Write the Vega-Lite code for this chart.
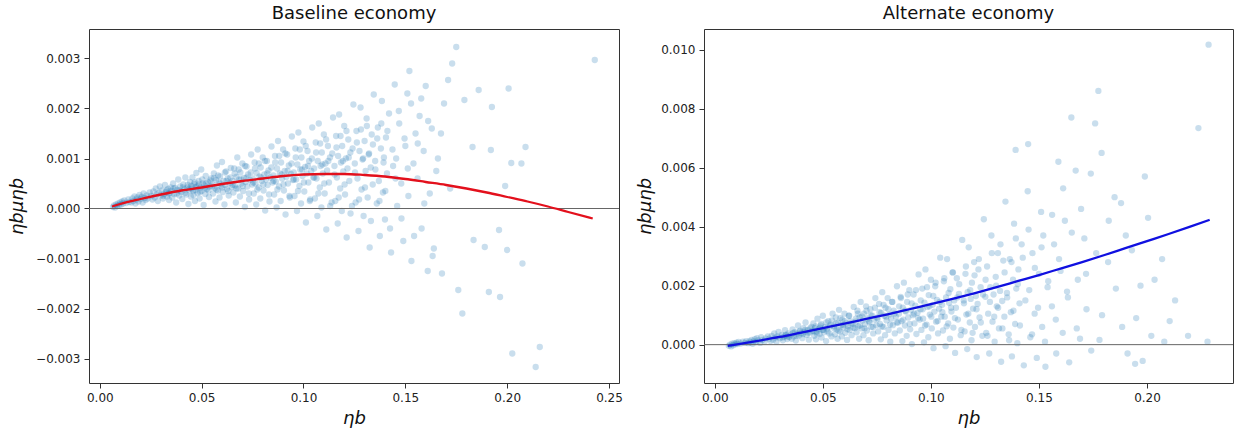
{
"$schema": "https://vega.github.io/schema/vega-lite/v6.json",
"autosize": {"type": "pad"},
"padding": {"left": 8, "top": 4, "right": 0, "bottom": 0},
"background": "white",
"bounds": "flush",
"spacing": 85,
"config": {
 "font": "DejaVu Sans",
 "view": {"stroke": "#333", "strokeWidth": 1},
 "axis": {"domain": false, "grid": false, "ticks": true, "tickSize": 5, "tickColor": "#333", "labelFont": "DejaVu Sans", "labelFontSize": 12, "labelColor": "#222", "labelPadding": 4, "titleFont": "DejaVu Sans", "titleFontStyle": "italic", "titleFontWeight": "normal", "titleFontSize": 18, "titleColor": "#111"},
 "title": {"fontSize": 18, "fontWeight": "normal", "font": "DejaVu Sans", "color": "#111", "offset": 6}
},
"datasets": {
"zero": [{"y": 0}],
"base": [
{"x":0.0065,"y":0.00003},{"x":0.007,"y":0.00006},{"x":0.0075,"y":0.00002},{"x":0.008,"y":0.00008},{"x":0.0085,"y":0.00005},{"x":0.009,"y":0.0001},{"x":0.0095,"y":0.00007},{"x":0.01,"y":0.00012},{"x":0.0105,"y":0.00008},{"x":0.011,"y":0.00014},{"x":0.0115,"y":0.0001},{"x":0.012,"y":0.00016},{"x":0.013,"y":0.00011},{"x":0.014,"y":0.00018},{"x":0.0145,"y":0.00013},
{"x":0.0155,"y":0.00012},{"x":0.016,"y":0.0002},{"x":0.0165,"y":0.00015},{"x":0.017,"y":0.00024},{"x":0.0175,"y":0.0001},{"x":0.018,"y":0.00018},{"x":0.0185,"y":0.00022},{"x":0.019,"y":0.00014},{"x":0.0195,"y":0.00027},{"x":0.02,"y":0.00019},{"x":0.0205,"y":0.00023},{"x":0.021,"y":0.00012},{"x":0.0215,"y":0.0003},{"x":0.022,"y":0.00021},{"x":0.0225,"y":0.00017},{"x":0.023,"y":0.00026},{"x":0.0235,"y":0.0002},{"x":0.0245,"y":0.00032},
{"x":0.0252,"y":0.00025},{"x":0.0258,"y":0.00018},{"x":0.0263,"y":0.00034},{"x":0.027,"y":0.00022},{"x":0.0275,"y":0.0004},{"x":0.028,"y":0.00028},{"x":0.0285,"y":0.00015},{"x":0.029,"y":0.00031},{"x":0.0295,"y":0.00044},{"x":0.03,"y":0.00026},{"x":0.0305,"y":0.00036},{"x":0.031,"y":0.0002},{"x":0.0315,"y":0.00029},{"x":0.032,"y":0.00047},{"x":0.0325,"y":0.00033},{"x":0.033,"y":0.00024},{"x":0.0335,"y":0.00039},{"x":0.034,"y":0.00017},{"x":0.0342,"y":0.0003},{"x":0.0348,"y":0.00042},
{"x":0.0352,"y":0.00035},{"x":0.0356,"y":0.00022},{"x":0.036,"y":0.0005},{"x":0.0365,"y":0.00029},{"x":0.037,"y":0.00041},{"x":0.0375,"y":0.00012},{"x":0.038,"y":0.00037},{"x":0.0385,"y":0.00058},{"x":0.039,"y":0.00026},{"x":0.0395,"y":0.00044},{"x":0.04,"y":0.00033},{"x":0.0405,"y":0.00019},{"x":0.041,"y":0.00048},{"x":0.0415,"y":0.00038},{"x":0.042,"y":0.00062},{"x":0.0425,"y":0.00028},{"x":0.043,"y":0.00042},{"x":0.0435,"y":0.00009},{"x":0.044,"y":0.00036},{"x":0.0443,"y":0.00053},{"x":0.0447,"y":0.00024},{"x":0.0449,"y":0.00045},
{"x":0.0452,"y":0.0004},{"x":0.0455,"y":0.00062},{"x":0.046,"y":0.00027},{"x":0.0463,"y":0.00049},{"x":0.0467,"y":0.00015},{"x":0.047,"y":0.00037},{"x":0.0474,"y":0.00071},{"x":0.0478,"y":0.00044},{"x":0.048,"y":0.00031},{"x":0.0485,"y":0.00055},{"x":0.049,"y":0.0002},{"x":0.0494,"y":0.00042},{"x":0.0498,"y":0.00078},{"x":0.05,"y":0.00035},{"x":0.0505,"y":0.0005},{"x":0.051,"y":0.00007},{"x":0.0513,"y":0.00046},{"x":0.0518,"y":0.00029},{"x":0.052,"y":0.00065},{"x":0.0525,"y":0.00039},{"x":0.053,"y":0.00053},{"x":0.0536,"y":0.00023},{"x":0.054,"y":0.00044},{"x":0.0546,"y":0.0006},
{"x":0.0552,"y":0.00048},{"x":0.0556,"y":0.0003},{"x":0.056,"y":0.0007},{"x":0.0564,"y":0.00041},{"x":0.0568,"y":0.00014},{"x":0.057,"y":0.00057},{"x":0.0575,"y":0.00086},{"x":0.058,"y":0.00036},{"x":0.0584,"y":0.00052},{"x":0.0588,"y":0.00022},{"x":0.059,"y":0.00064},{"x":0.0595,"y":0.00045},{"x":0.06,"y":0.00093},{"x":0.0604,"y":0.00033},{"x":0.0608,"y":0.00055},{"x":0.0612,"y":0.00008},{"x":0.0616,"y":0.00047},{"x":0.062,"y":0.00074},{"x":0.0624,"y":0.00039},{"x":0.0628,"y":0.0006},{"x":0.0633,"y":0.00026},{"x":0.0638,"y":0.00051},{"x":0.0643,"y":0.00081},{"x":0.0648,"y":0.00043},
{"x":0.0652,"y":0.00055},{"x":0.0656,"y":0.00032},{"x":0.066,"y":0.0008},{"x":0.0664,"y":0.00046},{"x":0.0668,"y":0.00012},{"x":0.067,"y":0.00063},{"x":0.0675,"y":0.00102},{"x":0.068,"y":0.0004},{"x":0.0684,"y":0.00058},{"x":0.0688,"y":0.00024},{"x":0.069,"y":0.00072},{"x":0.0695,"y":0.0005},{"x":0.07,"y":0.0009},{"x":0.0704,"y":0.00035},{"x":0.0708,"y":0.00061},{"x":0.0712,"y":0.00003},{"x":0.0716,"y":0.00053},{"x":0.072,"y":0.00084},{"x":0.0724,"y":0.00044},{"x":0.0728,"y":0.00068},{"x":0.0733,"y":0.00018},{"x":0.0738,"y":0.00057},{"x":0.0743,"y":0.00108},{"x":0.0748,"y":0.00048},
{"x":0.0752,"y":0.0006},{"x":0.0756,"y":0.0003},{"x":0.076,"y":0.00092},{"x":0.0764,"y":0.0005},{"x":0.0768,"y":0.00008},{"x":0.077,"y":0.00071},{"x":0.0775,"y":0.00118},{"x":0.078,"y":0.00042},{"x":0.0784,"y":0.00064},{"x":0.0788,"y":0.0002},{"x":0.079,"y":0.00082},{"x":0.0795,"y":0.00055},{"x":0.08,"y":0.00102},{"x":0.0804,"y":0.00036},{"x":0.0808,"y":0.00068},{"x":0.0812,"y":-0.00004},{"x":0.0816,"y":0.00058},{"x":0.082,"y":0.00095},{"x":0.0824,"y":0.00047},{"x":0.0828,"y":0.00076},{"x":0.0833,"y":0.00014},{"x":0.0838,"y":0.00062},{"x":0.0843,"y":0.00124},{"x":0.0848,"y":0.00052},
{"x":0.0852,"y":0.00066},{"x":0.0856,"y":0.00028},{"x":0.086,"y":0.00105},{"x":0.0864,"y":0.00054},{"x":0.0868,"y":0.00002},{"x":0.087,"y":0.0008},{"x":0.0875,"y":0.00135},{"x":0.088,"y":0.00044},{"x":0.0884,"y":0.0007},{"x":0.0888,"y":0.00015},{"x":0.089,"y":0.00092},{"x":0.0895,"y":0.0006},{"x":0.09,"y":0.00118},{"x":0.0904,"y":0.00036},{"x":0.0908,"y":0.00075},{"x":0.0912,"y":-0.00012},{"x":0.0916,"y":0.00063},{"x":0.092,"y":0.00108},{"x":0.0924,"y":0.0005},{"x":0.0928,"y":0.00086},{"x":0.0933,"y":0.00022},{"x":0.0938,"y":0.00069},{"x":0.0943,"y":0.00144},{"x":0.0948,"y":0.00057},
{"x":0.0952,"y":0.00072},{"x":0.0956,"y":0.00025},{"x":0.096,"y":0.0012},{"x":0.0964,"y":0.00058},{"x":0.0968,"y":-0.00005},{"x":0.097,"y":0.00088},{"x":0.0975,"y":0.00152},{"x":0.098,"y":0.00045},{"x":0.0984,"y":0.00078},{"x":0.0988,"y":0.0001},{"x":0.099,"y":0.00102},{"x":0.0995,"y":0.00065},{"x":0.1,"y":0.00134},{"x":0.1004,"y":0.00034},{"x":0.1008,"y":0.00083},{"x":0.1012,"y":-0.00028},{"x":0.1016,"y":0.0007},{"x":0.102,"y":0.00115},{"x":0.1024,"y":0.00052},{"x":0.1028,"y":0.00095},{"x":0.1033,"y":0.00018},{"x":0.1038,"y":0.00075},{"x":0.1043,"y":0.00162},{"x":0.1048,"y":0.00062},
{"x":0.1052,"y":0.0008},{"x":0.1056,"y":0.0002},{"x":0.106,"y":0.00132},{"x":0.1064,"y":0.0006},{"x":0.1068,"y":-0.00015},{"x":0.107,"y":0.00095},{"x":0.1075,"y":0.0017},{"x":0.108,"y":0.00042},{"x":0.1084,"y":0.00085},{"x":0.1088,"y":0.00002},{"x":0.109,"y":0.00112},{"x":0.1095,"y":0.0007},{"x":0.11,"y":0.00148},{"x":0.1104,"y":0.0003},{"x":0.1108,"y":0.0009},{"x":0.1112,"y":-0.00042},{"x":0.1116,"y":0.00076},{"x":0.112,"y":0.00125},{"x":0.1125,"y":0.00052},{"x":0.113,"y":0.00102},{"x":0.1138,"y":0.00012},{"x":0.1145,"y":0.00182},
{"x":0.1152,"y":0.00085},{"x":0.1156,"y":0.00015},{"x":0.116,"y":0.00145},{"x":0.1164,"y":0.00062},{"x":0.1168,"y":-0.0003},{"x":0.117,"y":0.00105},{"x":0.1175,"y":0.00188},{"x":0.118,"y":0.0004},{"x":0.1184,"y":0.00092},{"x":0.1188,"y":-0.00005},{"x":0.119,"y":0.00125},{"x":0.1195,"y":0.00074},{"x":0.12,"y":0.00165},{"x":0.1204,"y":0.00028},{"x":0.1208,"y":0.001},{"x":0.1212,"y":-0.00058},{"x":0.1216,"y":0.0008},{"x":0.122,"y":0.00138},{"x":0.1225,"y":0.00055},{"x":0.123,"y":0.00112},{"x":0.1238,"y":0.00005},{"x":0.1245,"y":0.00208},
{"x":0.1252,"y":0.0009},{"x":0.1256,"y":0.00012},{"x":0.126,"y":0.00155},{"x":0.1265,"y":0.0006},{"x":0.127,"y":-0.00045},{"x":0.1275,"y":0.00115},{"x":0.128,"y":0.00202},{"x":0.1285,"y":0.00038},{"x":0.129,"y":0.00098},{"x":0.1295,"y":-0.00015},{"x":0.13,"y":0.00135},{"x":0.1305,"y":0.00075},{"x":0.131,"y":0.0018},{"x":0.1315,"y":0.00022},{"x":0.132,"y":0.00108},{"x":0.1325,"y":-0.00078},{"x":0.133,"y":0.00082},{"x":0.1335,"y":0.00148},{"x":0.134,"y":0.00048},{"x":0.1345,"y":0.00228},
{"x":0.1352,"y":0.00095},{"x":0.136,"y":0.0001},{"x":0.1365,"y":0.00162},{"x":0.137,"y":0.00055},{"x":0.1375,"y":-0.00055},{"x":0.138,"y":0.0012},{"x":0.1385,"y":0.00215},{"x":0.139,"y":0.00032},{"x":0.1395,"y":0.00102},{"x":0.14,"y":-0.00022},{"x":0.1405,"y":0.00142},{"x":0.141,"y":0.0007},{"x":0.142,"y":0.0019},{"x":0.143,"y":-0.00088},{"x":0.144,"y":0.00085},{"x":0.1448,"y":0.00248},
{"x":0.1455,"y":0.001},{"x":0.146,"y":0.00005},{"x":0.147,"y":0.0017},{"x":0.148,"y":0.0005},{"x":0.149,"y":-0.00065},{"x":0.15,"y":0.00125},{"x":0.151,"y":0.0023},{"x":0.1515,"y":0.00025},{"x":0.152,"y":0.00275},{"x":0.153,"y":-0.00105},{"x":0.154,"y":0.0009},{"x":0.155,"y":0.0015},
{"x":0.156,"y":0.0006},{"x":0.157,"y":0.00185},{"x":0.158,"y":-0.0004},{"x":0.159,"y":0.00115},{"x":0.16,"y":0.00245},{"x":0.161,"y":-0.00125},{"x":0.162,"y":0.0003},{"x":0.163,"y":0.0016},{"x":0.164,"y":-0.0008},
{"x":0.166,"y":0.001},{"x":0.168,"y":-0.0013},{"x":0.169,"y":0.0021},{"x":0.171,"y":0.00257},{"x":0.172,"y":0.0004},{"x":0.173,"y":0.0029},{"x":0.175,"y":0.00323},{"x":0.176,"y":-0.00163},{"x":0.178,"y":-0.0021},{"x":0.179,"y":0.00217},
{"x":0.183,"y":0.00123},{"x":0.1835,"y":-0.00063},{"x":0.186,"y":0.00237},{"x":0.189,"y":-0.00077},{"x":0.191,"y":-0.00167},{"x":0.192,"y":0.00117},{"x":0.1925,"y":0.00203},{"x":0.196,"y":-0.00043},{"x":0.1965,"y":-0.00177},{"x":0.199,"y":0.00045},
{"x":0.2007,"y":0.0024},{"x":0.2,"y":-0.00083},{"x":0.202,"y":0.00091},{"x":0.2025,"y":-0.0029},{"x":0.207,"y":0.0009},{"x":0.2075,"y":-0.0011},{"x":0.209,"y":0.00123},{"x":0.214,"y":-0.00317},{"x":0.216,"y":-0.00277},{"x":0.243,"y":0.00297},
{"x":0.0312,"y":0.00025},{"x":0.0328,"y":0.00036},{"x":0.0337,"y":0.0003},{"x":0.0363,"y":0.0004},{"x":0.0378,"y":0.0003},{"x":0.0392,"y":0.00036},{"x":0.0408,"y":0.00042},{"x":0.0419,"y":0.00031},{"x":0.0432,"y":0.00047},{"x":0.0441,"y":0.0004},{"x":0.0458,"y":0.00035},{"x":0.0466,"y":0.00052},{"x":0.0472,"y":0.00043},{"x":0.0487,"y":0.00048},{"x":0.0492,"y":0.00033},{"x":0.0503,"y":0.00058},{"x":0.0516,"y":0.00041},{"x":0.0522,"y":0.0005},{"x":0.0533,"y":0.00036},{"x":0.0542,"y":0.00056},{"x":0.0553,"y":0.00044},{"x":0.0561,"y":0.00061},{"x":0.0573,"y":0.00038},{"x":0.0581,"y":0.00066},{"x":0.0592,"y":0.0005},{"x":0.0601,"y":0.00042},{"x":0.0614,"y":0.00072},{"x":0.0622,"y":0.00055},{"x":0.0631,"y":0.00035},{"x":0.0641,"y":0.00062},{"x":0.0653,"y":0.00047},{"x":0.0662,"y":0.0007},{"x":0.0671,"y":0.0004},{"x":0.0682,"y":0.00078},{"x":0.0693,"y":0.00058},{"x":0.0702,"y":0.00045},{"x":0.0713,"y":0.00085},{"x":0.0721,"y":0.00062},{"x":0.0732,"y":0.0003},{"x":0.0741,"y":0.00072},{"x":0.0753,"y":0.00052},{"x":0.0762,"y":0.0008},{"x":0.0773,"y":0.00038},{"x":0.0781,"y":0.0009},{"x":0.0792,"y":0.00062},{"x":0.0803,"y":0.00048},{"x":0.0811,"y":0.00095},{"x":0.0822,"y":0.0007},{"x":0.0831,"y":0.00028},{"x":0.0842,"y":0.00082},{"x":0.0853,"y":0.00055},{"x":0.0861,"y":0.00092},{"x":0.0872,"y":0.00038},{"x":0.0881,"y":0.00105},{"x":0.0893,"y":0.00068},{"x":0.0902,"y":0.00048},{"x":0.0911,"y":0.0011},{"x":0.0922,"y":0.00075},{"x":0.0931,"y":0.00025},{"x":0.0941,"y":0.0009},{"x":0.0953,"y":0.00058},{"x":0.0962,"y":0.00102},{"x":0.0973,"y":0.00035},{"x":0.0982,"y":0.00118},{"x":0.0993,"y":0.00078},{"x":0.1002,"y":0.00052},{"x":0.1011,"y":0.00125},{"x":0.1022,"y":0.00085},{"x":0.1031,"y":0.00015},{"x":0.1041,"y":0.001},{"x":0.1053,"y":0.00062},{"x":0.1062,"y":0.00112},{"x":0.1073,"y":0.0003},{"x":0.1082,"y":0.0013},{"x":0.1093,"y":0.00088},{"x":0.1102,"y":0.0005},{"x":0.1111,"y":0.00138},{"x":0.1122,"y":0.00095},{"x":0.1131,"y":0.00005},{"x":0.1141,"y":0.0011},{"x":0.1153,"y":0.00068},{"x":0.1162,"y":0.00122},{"x":0.1173,"y":0.00022},{"x":0.1182,"y":0.00145},{"x":0.1193,"y":0.00095},{"x":0.1202,"y":0.00048},{"x":0.1211,"y":0.00155},{"x":0.1222,"y":0.00102},{"x":0.1231,"y":-0.0001},{"x":0.1241,"y":0.0012},{"x":0.1253,"y":0.00072},{"x":0.1262,"y":0.00132},{"x":0.1273,"y":0.00018},{"x":0.1282,"y":0.00158},{"x":0.1293,"y":0.001},{"x":0.1302,"y":0.00042},{"x":0.1311,"y":0.00165},{"x":0.1322,"y":0.0011},{"x":0.1331,"y":-0.00025},{"x":0.1341,"y":0.00128},{"x":0.1353,"y":0.00078},{"x":0.1362,"y":0.0014},{"x":0.1373,"y":0.00015},{"x":0.1382,"y":0.0017},{"x":0.1393,"y":0.00092},{"x":0.1402,"y":0.00035},{"x":0.1412,"y":0.00155},{"x":0.1425,"y":-0.0004},{"x":0.1437,"y":0.00118},{"x":0.1452,"y":0.0006},{"x":0.1468,"y":0.00195},{"x":0.1481,"y":-0.0002},{"x":0.1496,"y":0.0014},{"x":0.1512,"y":0.0008},{"x":0.1528,"y":0.0021},{"x":0.1543,"y":-0.00055},{"x":0.1561,"y":0.0013},{"x":0.1578,"y":0.0022},{"x":0.1593,"y":0.0001},{"x":0.1612,"y":0.00175},{"x":0.1634,"y":-0.00095},{"x":0.1652,"y":0.00075},{"x":0.1675,"y":0.0015}
],
"alt": [
{"x":0.0065,"y":-0.00004},{"x":0.007,"y":0},{"x":0.0075,"y":-0.00006},{"x":0.008,"y":0.00003},{"x":0.0085,"y":-0.00002},{"x":0.009,"y":0.00005},{"x":0.0095,"y":0.00001},{"x":0.01,"y":0.00007},{"x":0.0105,"y":0.00002},{"x":0.011,"y":0.00009},{"x":0.012,"y":0.00004},{"x":0.013,"y":0.0001},{"x":0.014,"y":0.00006},{"x":0.0145,"y":0.00012},
{"x":0.0155,"y":0.00005},{"x":0.016,"y":0.00012},{"x":0.0165,"y":0.00008},{"x":0.017,"y":0.00016},{"x":0.0175,"y":0.00003},{"x":0.018,"y":0.00011},{"x":0.0185,"y":0.00019},{"x":0.019,"y":0.00009},{"x":0.0195,"y":0.00022},{"x":0.02,"y":0.00014},{"x":0.021,"y":0.00006},{"x":0.0215,"y":0.00025},{"x":0.022,"y":0.00016},{"x":0.023,"y":0.00011},{"x":0.0235,"y":0.00021},{"x":0.0245,"y":0.00028},
{"x":0.0252,"y":0.0002},{"x":0.0258,"y":0.00012},{"x":0.0263,"y":0.0003},{"x":0.027,"y":0.00017},{"x":0.0275,"y":0.00038},{"x":0.028,"y":0.00024},{"x":0.0285,"y":0.0001},{"x":0.029,"y":0.00028},{"x":0.0295,"y":0.00043},{"x":0.03,"y":0.00022},{"x":0.031,"y":0.00033},{"x":0.0315,"y":0.00015},{"x":0.032,"y":0.00027},{"x":0.0325,"y":0.00049},{"x":0.033,"y":0.00031},{"x":0.0335,"y":0.00019},{"x":0.034,"y":0.00038},{"x":0.0345,"y":0.00026},
{"x":0.0352,"y":0.00034},{"x":0.0356,"y":0.0002},{"x":0.036,"y":0.00052},{"x":0.0365,"y":0.00028},{"x":0.037,"y":0.00042},{"x":0.0375,"y":0.00014},{"x":0.038,"y":0.00037},{"x":0.0385,"y":0.00065},{"x":0.039,"y":0.00031},{"x":0.0395,"y":0.00047},{"x":0.04,"y":0.00039},{"x":0.0405,"y":0.00022},{"x":0.041,"y":0.00056},{"x":0.0415,"y":0.00043},{"x":0.042,"y":0.00075},{"x":0.0425,"y":0.00033},{"x":0.043,"y":0.00049},{"x":0.0435,"y":0.00017},{"x":0.044,"y":0.00041},{"x":0.0447,"y":0.0006},
{"x":0.0452,"y":0.00047},{"x":0.0456,"y":0.00072},{"x":0.046,"y":0.0003},{"x":0.0464,"y":0.00056},{"x":0.0468,"y":0.00018},{"x":0.047,"y":0.00044},{"x":0.0475,"y":0.00088},{"x":0.048,"y":0.00052},{"x":0.0485,"y":0.00036},{"x":0.049,"y":0.00065},{"x":0.0494,"y":0.00024},{"x":0.0498,"y":0.0005},{"x":0.05,"y":0.00098},{"x":0.0505,"y":0.00042},{"x":0.051,"y":0.0006},{"x":0.0515,"y":0.00012},{"x":0.052,"y":0.00055},{"x":0.0525,"y":0.0008},{"x":0.053,"y":0.00038},{"x":0.0535,"y":0.00068},{"x":0.054,"y":0.00028},{"x":0.0545,"y":0.00105},
{"x":0.0552,"y":0.00062},{"x":0.0556,"y":0.00035},{"x":0.056,"y":0.00092},{"x":0.0564,"y":0.00052},{"x":0.0568,"y":0.0002},{"x":0.057,"y":0.00074},{"x":0.0575,"y":0.00118},{"x":0.058,"y":0.00045},{"x":0.0584,"y":0.00066},{"x":0.0588,"y":0.00028},{"x":0.059,"y":0.00085},{"x":0.0595,"y":0.00058},{"x":0.06,"y":0.00105},{"x":0.0604,"y":0.0004},{"x":0.0608,"y":0.00072},{"x":0.0612,"y":0.00016},{"x":0.0616,"y":0.00062},{"x":0.062,"y":0.00098},{"x":0.0624,"y":0.0005},{"x":0.0628,"y":0.0008},{"x":0.0633,"y":0.00032},{"x":0.0638,"y":0.0007},{"x":0.0643,"y":0.00128},{"x":0.0648,"y":0.00056},
{"x":0.0652,"y":0.00078},{"x":0.0656,"y":0.00042},{"x":0.066,"y":0.00115},{"x":0.0664,"y":0.00062},{"x":0.0668,"y":0.0002},{"x":0.067,"y":0.00092},{"x":0.0675,"y":0.00145},{"x":0.068,"y":0.00055},{"x":0.0684,"y":0.00082},{"x":0.0688,"y":0.00032},{"x":0.069,"y":0.00105},{"x":0.0695,"y":0.0007},{"x":0.07,"y":0.0013},{"x":0.0704,"y":0.00048},{"x":0.0708,"y":0.00088},{"x":0.0712,"y":0.00015},{"x":0.0716,"y":0.00076},{"x":0.072,"y":0.0012},{"x":0.0724,"y":0.0006},{"x":0.0728,"y":0.00098},{"x":0.0733,"y":0.00038},{"x":0.0738,"y":0.00085},{"x":0.0743,"y":0.00158},{"x":0.0748,"y":0.00066},
{"x":0.0752,"y":0.00092},{"x":0.0756,"y":0.00045},{"x":0.076,"y":0.00138},{"x":0.0764,"y":0.0007},{"x":0.0768,"y":0.00018},{"x":0.077,"y":0.00108},{"x":0.0775,"y":0.00178},{"x":0.078,"y":0.0006},{"x":0.0784,"y":0.00098},{"x":0.0788,"y":0.00032},{"x":0.079,"y":0.00125},{"x":0.0795,"y":0.00082},{"x":0.08,"y":0.00158},{"x":0.0804,"y":0.0005},{"x":0.0808,"y":0.00102},{"x":0.0812,"y":0.0001},{"x":0.0816,"y":0.00088},{"x":0.082,"y":0.00145},{"x":0.0824,"y":0.00066},{"x":0.0828,"y":0.00115},{"x":0.0833,"y":0.00038},{"x":0.0838,"y":0.00095},{"x":0.0843,"y":0.00198},{"x":0.0848,"y":0.00075},
{"x":0.0852,"y":0.00105},{"x":0.0856,"y":0.00048},{"x":0.086,"y":0.00162},{"x":0.0864,"y":0.0008},{"x":0.0868,"y":0.00012},{"x":0.087,"y":0.00125},{"x":0.0875,"y":0.0021},{"x":0.088,"y":0.00065},{"x":0.0884,"y":0.00112},{"x":0.0888,"y":0.0003},{"x":0.089,"y":0.00145},{"x":0.0895,"y":0.00092},{"x":0.09,"y":0.00185},{"x":0.0904,"y":0.00052},{"x":0.0908,"y":0.00118},{"x":0.0912,"y":0.00002},{"x":0.0916,"y":0.001},{"x":0.092,"y":0.0017},{"x":0.0924,"y":0.00072},{"x":0.0928,"y":0.00132},{"x":0.0933,"y":0.00036},{"x":0.0938,"y":0.00108},{"x":0.0943,"y":0.00238},{"x":0.0948,"y":0.00085},
{"x":0.0952,"y":0.0012},{"x":0.0956,"y":0.0005},{"x":0.096,"y":0.0019},{"x":0.0964,"y":0.00088},{"x":0.0968,"y":0.00008},{"x":0.097,"y":0.00142},{"x":0.0975,"y":0.00255},{"x":0.098,"y":0.00068},{"x":0.0984,"y":0.00128},{"x":0.0988,"y":0.00025},{"x":0.099,"y":0.00168},{"x":0.0995,"y":0.00102},{"x":0.1,"y":0.0022},{"x":0.1004,"y":0.00055},{"x":0.1008,"y":0.00135},{"x":0.1012,"y":-0.00012},{"x":0.1016,"y":0.00112},{"x":0.102,"y":0.00198},{"x":0.1024,"y":0.00078},{"x":0.1028,"y":0.00152},{"x":0.1033,"y":0.00038},{"x":0.1038,"y":0.00122},{"x":0.1043,"y":0.00295},{"x":0.1048,"y":0.00095},
{"x":0.1052,"y":0.00135},{"x":0.1056,"y":0.00048},{"x":0.106,"y":0.00215},{"x":0.1064,"y":0.00095},{"x":0.1068,"y":-0.00005},{"x":0.107,"y":0.0016},{"x":0.1075,"y":0.0029},{"x":0.108,"y":0.00072},{"x":0.1084,"y":0.00142},{"x":0.1088,"y":0.0002},{"x":0.109,"y":0.00188},{"x":0.1095,"y":0.00112},{"x":0.11,"y":0.00245},{"x":0.1104,"y":0.00058},{"x":0.1108,"y":0.0015},{"x":0.1112,"y":-0.00028},{"x":0.1116,"y":0.00125},{"x":0.112,"y":0.00225},{"x":0.1125,"y":0.00085},{"x":0.113,"y":0.00172},{"x":0.1138,"y":0.00032},{"x":0.1145,"y":0.00355},
{"x":0.1152,"y":0.0015},{"x":0.1156,"y":0.00045},{"x":0.116,"y":0.0024},{"x":0.1164,"y":0.00102},{"x":0.1168,"y":-0.00015},{"x":0.117,"y":0.00178},{"x":0.1175,"y":0.0033},{"x":0.118,"y":0.00075},{"x":0.1184,"y":0.00155},{"x":0.1188,"y":0.00015},{"x":0.119,"y":0.0021},{"x":0.1195,"y":0.00122},{"x":0.12,"y":0.0028},{"x":0.1204,"y":0.0006},{"x":0.1208,"y":0.00165},{"x":0.1212,"y":-0.00042},{"x":0.1216,"y":0.00138},{"x":0.122,"y":0.00255},{"x":0.1225,"y":0.00092},{"x":0.123,"y":0.00195},{"x":0.1238,"y":0.0003},{"x":0.1245,"y":0.00425},
{"x":0.1252,"y":0.00162},{"x":0.1256,"y":0.0004},{"x":0.126,"y":0.00265},{"x":0.1265,"y":0.00105},{"x":0.127,"y":-0.0003},{"x":0.1275,"y":0.00195},{"x":0.128,"y":0.0037},{"x":0.1285,"y":0.00078},{"x":0.129,"y":0.0017},{"x":0.1295,"y":0.0001},{"x":0.13,"y":0.0023},{"x":0.1305,"y":0.0013},{"x":0.131,"y":0.0031},{"x":0.1315,"y":0.00055},{"x":0.132,"y":0.00182},{"x":0.1325,"y":-0.00058},{"x":0.133,"y":0.00148},{"x":0.1335,"y":0.00285},{"x":0.134,"y":0.00095},{"x":0.1345,"y":0.00485},
{"x":0.1352,"y":0.00175},{"x":0.136,"y":0.00035},{"x":0.1365,"y":0.0029},{"x":0.137,"y":0.0011},{"x":0.1375,"y":-0.0004},{"x":0.138,"y":0.0022},{"x":0.1385,"y":0.0041},{"x":0.139,"y":0.0007},{"x":0.1395,"y":0.0019},{"x":0.14,"y":0.00005},{"x":0.1405,"y":0.00255},{"x":0.141,"y":0.0014},{"x":0.142,"y":0.0034},{"x":0.143,"y":-0.0007},{"x":0.1392,"y":0.0066},{"x":0.1448,"y":0.0052},
{"x":0.145,"y":0.0068},{"x":0.1455,"y":0.00185},{"x":0.146,"y":0.00025},{"x":0.147,"y":0.0031},{"x":0.148,"y":0.00105},{"x":0.149,"y":-0.00045},{"x":0.15,"y":0.0024},{"x":0.151,"y":0.0045},{"x":0.1515,"y":0.0006},{"x":0.152,"y":0.0037},{"x":0.153,"y":-0.00075},{"x":0.154,"y":0.00195},
{"x":0.156,"y":0.0013},{"x":0.157,"y":0.0034},{"x":0.158,"y":-0.0003},{"x":0.159,"y":0.0062},{"x":0.16,"y":0.0025},{"x":0.161,"y":0.0004},{"x":0.162,"y":0.0042},{"x":0.163,"y":0.0018},{"x":0.164,"y":-0.0006},{"x":0.165,"y":0.0077},
{"x":0.167,"y":0.0059},{"x":0.168,"y":0.0022},{"x":0.169,"y":0.0002},{"x":0.171,"y":0.0036},{"x":0.172,"y":0.0012},{"x":0.174,"y":0.0058},{"x":0.176,"y":0.0075},{"x":0.1775,"y":0.0086},{"x":0.178,"y":0.00016},{"x":0.179,"y":0.0065},
{"x":0.182,"y":0.0028},{"x":0.185,"y":0.005},{"x":0.188,"y":0.0048},{"x":0.1885,"y":0.0006},{"x":0.191,"y":-0.0003},{"x":0.193,"y":0.0032},{"x":0.195,"y":0.0009},{"x":0.197,"y":0.002},{"x":0.199,"y":0.0057},{"x":0.198,"y":-0.00055},
{"x":0.2005,"y":0.0043},{"x":0.202,"y":0.0003},{"x":0.207,"y":0.0029},{"x":0.208,"y":0.0001},{"x":0.213,"y":0.0015},{"x":0.219,"y":0.0003},{"x":0.2238,"y":0.00734},{"x":0.2285,"y":0.01017},{"x":0.228,"y":0.0001},
{"x":0.0312,"y":0.00024},{"x":0.0328,"y":0.00033},{"x":0.0337,"y":0.00027},{"x":0.0363,"y":0.0004},{"x":0.0378,"y":0.0003},{"x":0.0392,"y":0.00045},{"x":0.0408,"y":0.00036},{"x":0.0419,"y":0.0005},{"x":0.0432,"y":0.0004},{"x":0.0441,"y":0.00055},{"x":0.0458,"y":0.00045},{"x":0.0466,"y":0.00062},{"x":0.0472,"y":0.00038},{"x":0.0487,"y":0.00058},{"x":0.0492,"y":0.0007},{"x":0.0503,"y":0.0005},{"x":0.0516,"y":0.00075},{"x":0.0522,"y":0.00045},{"x":0.0533,"y":0.00062},{"x":0.0542,"y":0.00082},{"x":0.0553,"y":0.00055},{"x":0.0561,"y":0.00072},{"x":0.0573,"y":0.00048},{"x":0.0581,"y":0.0009},{"x":0.0592,"y":0.00066},{"x":0.0601,"y":0.0008},{"x":0.0614,"y":0.00052},{"x":0.0622,"y":0.00098},{"x":0.0631,"y":0.00072},{"x":0.0641,"y":0.00058},{"x":0.0653,"y":0.00088},{"x":0.0662,"y":0.00105},{"x":0.0671,"y":0.00065},{"x":0.0682,"y":0.00095},{"x":0.0693,"y":0.00055},{"x":0.0702,"y":0.00115},{"x":0.0713,"y":0.0008},{"x":0.0721,"y":0.001},{"x":0.0732,"y":0.0006},{"x":0.0741,"y":0.00125},{"x":0.0753,"y":0.00088},{"x":0.0762,"y":0.0011},{"x":0.0773,"y":0.00062},{"x":0.0781,"y":0.00135},{"x":0.0792,"y":0.00095},{"x":0.0803,"y":0.0012},{"x":0.0811,"y":0.00068},{"x":0.0822,"y":0.00145},{"x":0.0831,"y":0.00105},{"x":0.0842,"y":0.00075},{"x":0.0853,"y":0.0013},{"x":0.0861,"y":0.00158},{"x":0.0872,"y":0.00085},{"x":0.0881,"y":0.00115},{"x":0.0893,"y":0.0017},{"x":0.0902,"y":0.0007},{"x":0.0911,"y":0.0014},{"x":0.0922,"y":0.00105},{"x":0.0931,"y":0.00185},{"x":0.0941,"y":0.0009},{"x":0.0953,"y":0.0015},{"x":0.0962,"y":0.0012},{"x":0.0973,"y":0.00065},{"x":0.0982,"y":0.00195},{"x":0.0993,"y":0.0013},{"x":0.1002,"y":0.00095},{"x":0.1011,"y":0.00165},{"x":0.1022,"y":0.0021},{"x":0.1031,"y":0.0008},{"x":0.1041,"y":0.00145},{"x":0.1053,"y":0.0011},{"x":0.1062,"y":0.00225},{"x":0.1073,"y":0.00062},{"x":0.1082,"y":0.00175},{"x":0.1093,"y":0.00125},{"x":0.1102,"y":0.00245},{"x":0.1111,"y":0.0009},{"x":0.1122,"y":0.0016},{"x":0.1131,"y":0.00205},{"x":0.1141,"y":0.0005},{"x":0.1153,"y":0.0014},{"x":0.1162,"y":0.00265},{"x":0.1173,"y":0.00105},{"x":0.1182,"y":0.00185},{"x":0.1193,"y":0.0004},{"x":0.1202,"y":0.00235},{"x":0.1211,"y":0.0012},{"x":0.1222,"y":0.0029},{"x":0.1231,"y":0.00075},{"x":0.1241,"y":0.0017},{"x":0.1253,"y":0.0022},{"x":0.1262,"y":0.0003},{"x":0.1273,"y":0.00145},{"x":0.1282,"y":0.0031},{"x":0.1293,"y":0.00095},{"x":0.1302,"y":0.002},{"x":0.1311,"y":0.00125},{"x":0.1322,"y":0.0034},{"x":0.1331,"y":0.00055},{"x":0.1341,"y":0.00245},{"x":0.1353,"y":0.0016},{"x":0.1362,"y":0.00015},{"x":0.1373,"y":0.0028},{"x":0.1382,"y":0.00115},{"x":0.1393,"y":0.0036},{"x":0.1402,"y":0.00205},{"x":0.1412,"y":0.00065},{"x":0.1425,"y":0.00295},{"x":0.1437,"y":0.0015},{"x":0.1452,"y":0.0039},{"x":0.1468,"y":0.00035},{"x":0.1481,"y":0.0026},{"x":0.1496,"y":0.00125},{"x":0.1512,"y":0.0033},{"x":0.1528,"y":0.0001},{"x":0.1543,"y":0.00215},{"x":0.1561,"y":0.0044},{"x":0.1578,"y":0.00085},{"x":0.1593,"y":0.0029},{"x":0.1612,"y":0.0053},{"x":0.1634,"y":0.0016},{"x":0.1652,"y":0.0038},{"x":0.1675,"y":0.00055},{"x":0.1695,"y":0.0046},{"x":0.1718,"y":0.0024},{"x":0.1742,"y":-0.0002},{"x":0.1765,"y":0.0031},{"x":0.1792,"y":0.001},{"x":0.1823,"y":0.0042},{"x":0.1856,"y":0.0019},{"x":0.1902,"y":0.0037},{"x":0.1945,"y":-0.00065},{"x":0.2035,"y":0.0022},{"x":0.2105,"y":0.0008}
],
"baseFit": [
{"x":0.006,"y":0.00004},{"x":0.01,"y":0.00009},{"x":0.02,"y":0.00019},{"x":0.03,"y":0.00028},{"x":0.04,"y":0.00036},{"x":0.05,"y":0.00042},{"x":0.06,"y":0.00049},{"x":0.07,"y":0.00055},{"x":0.08,"y":0.0006},{"x":0.09,"y":0.00065},{"x":0.1,"y":0.00068},{"x":0.11,"y":0.00069},{"x":0.12,"y":0.00069},{"x":0.13,"y":0.00067},{"x":0.14,"y":0.00064},{"x":0.15,"y":0.00059},{"x":0.16,"y":0.00053},{"x":0.17,"y":0.00047},{"x":0.18,"y":0.0004},{"x":0.19,"y":0.00032},{"x":0.2,"y":0.00023},{"x":0.21,"y":0.00014},{"x":0.22,"y":0.00004},{"x":0.23,"y":-0.00007},{"x":0.242,"y":-0.0002}
],
"altFit": [
{"x":0.006,"y":-0.00004},{"x":0.02,"y":0.00013},{"x":0.03,"y":0.00026},{"x":0.04,"y":0.00041},{"x":0.05,"y":0.00056},{"x":0.06,"y":0.00071},{"x":0.07,"y":0.00087},{"x":0.08,"y":0.00103},{"x":0.09,"y":0.0012},{"x":0.1,"y":0.00137},{"x":0.11,"y":0.00155},{"x":0.12,"y":0.00174},{"x":0.13,"y":0.00194},{"x":0.14,"y":0.00215},{"x":0.15,"y":0.00236},{"x":0.16,"y":0.00258},{"x":0.17,"y":0.0028},{"x":0.18,"y":0.00303},{"x":0.19,"y":0.00327},{"x":0.2,"y":0.00351},{"x":0.21,"y":0.00375},{"x":0.22,"y":0.004},{"x":0.229,"y":0.00423}
]
},
"hconcat": [
{
 "width": 530, "height": 354,
 "title": "Baseline economy",
 "layer": [
  {"data": {"name": "base"}, "mark": {"type": "point", "filled": true, "shape": "circle", "size": 40, "color": "#1f77b4", "opacity": 0.24, "clip": true},
   "encoding": {
    "x": {"field": "x", "type": "quantitative", "scale": {"domain": [-0.0053, 0.2549], "nice": false, "zero": false}, "axis": {"values": [0, 0.05, 0.1, 0.15, 0.2, 0.25], "format": ".2f", "title": "ηb", "titlePadding": 6}},
    "y": {"field": "y", "type": "quantitative", "scale": {"domain": [-0.00349, 0.00359], "nice": false, "zero": false}, "axis": {"values": [-0.003, -0.002, -0.001, 0, 0.001, 0.002, 0.003], "format": ".3f", "title": "ηbμηb", "titlePadding": 9}}
   }},
  {"data": {"name": "zero"}, "mark": {"type": "rule", "color": "#666", "strokeWidth": 1}, "encoding": {"y": {"field": "y", "type": "quantitative"}}},
  {"data": {"name": "baseFit"}, "mark": {"type": "line", "color": "#e3101c", "strokeWidth": 2.3, "clip": true, "interpolate": "monotone"},
   "encoding": {"x": {"field": "x", "type": "quantitative"}, "y": {"field": "y", "type": "quantitative"}}}
 ]
},
{
 "width": 529, "height": 354,
 "title": "Alternate economy",
 "layer": [
  {"data": {"name": "alt"}, "mark": {"type": "point", "filled": true, "shape": "circle", "size": 40, "color": "#1f77b4", "opacity": 0.24, "clip": true},
   "encoding": {
    "x": {"field": "x", "type": "quantitative", "scale": {"domain": [-0.005, 0.2398], "nice": false, "zero": false}, "axis": {"values": [0, 0.05, 0.1, 0.15, 0.2], "format": ".2f", "title": "ηb", "titlePadding": 6}},
    "y": {"field": "y", "type": "quantitative", "scale": {"domain": [-0.0013, 0.0107], "nice": false, "zero": false}, "axis": {"values": [0, 0.002, 0.004, 0.006, 0.008, 0.01], "format": ".3f", "title": "ηbμηb", "titlePadding": 6}}
   }},
  {"data": {"name": "zero"}, "mark": {"type": "rule", "color": "#666", "strokeWidth": 1}, "encoding": {"y": {"field": "y", "type": "quantitative"}}},
  {"data": {"name": "altFit"}, "mark": {"type": "line", "color": "#1010e0", "strokeWidth": 2.3, "clip": true, "interpolate": "monotone"},
   "encoding": {"x": {"field": "x", "type": "quantitative"}, "y": {"field": "y", "type": "quantitative"}}}
 ]
}
]
}
